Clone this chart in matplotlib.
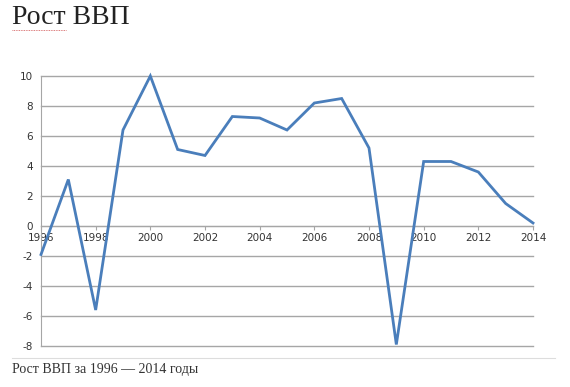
import matplotlib
matplotlib.use("Agg")
import matplotlib.pyplot as plt
from matplotlib.lines import Line2D

years = [1996, 1997, 1998, 1999, 2000, 2001, 2002, 2003, 2004, 2005,
         2006, 2007, 2008, 2009, 2010, 2011, 2012, 2013, 2014]
gdp_growth = [-1.9, 3.1, -5.6, 6.4, 10.0, 5.1, 4.7, 7.3, 7.2, 6.4,
              8.2, 8.5, 5.2, -7.9, 4.3, 4.3, 3.6, 1.5, 0.2]
x_ticks = [1996, 1998, 2000, 2002, 2004, 2006, 2008, 2010, 2012, 2014]
y_ticks = [-8, -6, -4, -2, 0, 2, 4, 6, 8, 10]
title = "Рост ВВП"
caption = "Рост ВВП за 1996 — 2014 годы"

fig = plt.figure(figsize=(5.7, 3.87), dpi=100)
fig.patch.set_facecolor("white")
ax = fig.add_axes([41/570, 1-346/387, 492/570, 270/387])

ax.set_xlim(1996, 2014)
ax.set_ylim(-8, 10)
for y in y_ticks:
    ax.axhline(y, color="#a6a6a6", lw=1.0, zorder=1, clip_on=False)
ax.plot(years, gdp_growth, color="#4a7ebb", lw=2.0, zorder=3,
        solid_joinstyle="miter", clip_on=False)

for s in ["top", "right"]:
    ax.spines[s].set_visible(False)
ax.spines["left"].set_color("#a6a6a6")
ax.spines["bottom"].set_position(("data", 0))
ax.spines["bottom"].set_color("#a6a6a6")
ax.set_xticks(x_ticks)
ax.set_xticklabels([str(v) for v in x_ticks], fontsize=7.5, color="#333333")
ax.set_yticks(y_ticks)
ax.set_yticklabels([str(v) for v in y_ticks], fontsize=7.5, color="#333333")
ax.tick_params(axis="x", length=3, color="#a6a6a6", pad=2)
ax.tick_params(axis="y", length=0, pad=6)

fig.text(12/570, 1-17/387, title, fontsize=20, family="Liberation Serif",
         color="#222222", va="center", ha="left")
# spellcheck underline
fig.add_artist(Line2D([12/570, 66/570], [1-30/387, 1-30/387],
                      color="#d05050", lw=0.6, ls=(0, (1, 1))))
fig.add_artist(Line2D([12/570, 555/570], [1-358/387, 1-358/387],
                      color="#dddddd", lw=0.8))
fig.text(12/570, 1-370/387, caption, fontsize=10, family="Liberation Serif",
         color="#333333", va="center", ha="left")

fig.savefig("out.png", dpi=100)
